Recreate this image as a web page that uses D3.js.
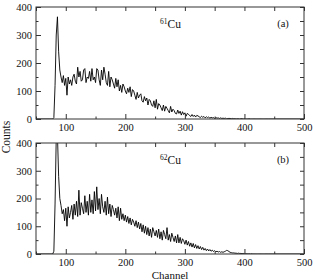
<!doctype html>
<html>
<head>
  <title>61Cu / 62Cu spectra</title>
  <meta charset="UTF-8">
  <script src="https://d3js.org/d3.v7.min.js"></script>
  <style>
    body { margin: 0; background: #fff; }
    text { font-family: "Liberation Serif", "DejaVu Serif", serif; fill: #111; }
  </style>
</head>
<body>
  <div id="svg_area"></div>
<script>

// channels of the spectrum (every 2nd channel, 78 .. 440)
var chStart = 78;
var chStep = 2;

// 61Cu counts, panel (a)
var counts61 = [
  0, 5, 120, 300, 365, 240, 175, 150, 130, 155,
  120, 145, 85, 150, 125, 140, 120, 150, 160, 135,
  125, 185, 150, 170, 135, 140, 175, 180, 130, 150,
  145, 170, 135, 180, 140, 150, 130, 180, 175, 140,
  120, 175, 140, 185, 160, 130, 120, 170, 115, 150,
  140, 125, 110, 145, 115, 140, 100, 120, 95, 125,
  115, 100, 90, 110, 95, 115, 80, 105, 100, 85,
  70, 95, 75, 85, 90, 65, 60, 80, 65, 75,
  50, 70, 65, 50, 45, 65, 40, 70, 35, 55,
  50, 40, 30, 50, 28, 45, 38, 30, 22, 45,
  25, 35, 30, 20, 18, 32, 20, 28, 14, 26,
  16, 22, 10, 20, 17, 12, 9, 16, 9, 14,
  7, 13, 11, 8, 5, 10, 6, 9, 4, 8,
  5, 7, 3, 6, 4, 5, 2, 5, 3, 4,
  2, 4, 2, 3, 2, 3, 1, 2, 2, 2,
  1, 2, 1, 1, 0, 1, 1, 0, 1, 1,
  0, 1, 0, 0, 0, 1, 0, 0, 0, 0,
  0, 0, 0, 0, 0, 0, 0, 0, 0, 0,
  0, 0
];

// 62Cu counts, panel (b)
var counts62 = [
  0, 10, 180, 420, 430, 280, 200, 175, 145, 160,
  120, 165, 100, 170, 130, 150, 175, 125, 180, 140,
  190, 135, 230, 140, 185, 165, 145, 210, 150, 190,
  140, 215, 150, 195, 145, 225, 155, 242, 160, 200,
  145, 215, 170, 150, 190, 140, 205, 145, 180, 135,
  175, 160, 140, 165, 130, 170, 120, 165, 125, 145,
  120, 140, 115, 135, 110, 130, 105, 125, 115, 100,
  120, 95, 115, 90, 110, 80, 105, 75, 100, 70,
  95, 65, 90, 60, 95, 80, 65, 85, 60, 90,
  55, 80, 50, 85, 70, 55, 95, 50, 70, 45,
  75, 60, 45, 65, 40, 70, 40, 60, 38, 55,
  48, 35, 50, 32, 45, 28, 40, 25, 38, 22,
  34, 20, 30, 18, 27, 16, 24, 14, 20, 12,
  18, 11, 16, 10, 14, 9, 12, 8, 10, 7,
  9, 6, 8, 6, 8, 10, 13, 12, 9, 6,
  5, 4, 4, 3, 3, 2, 3, 2, 2, 1,
  2, 1, 1, 1, 0, 1, 0, 1, 0, 0,
  0, 0, 0, 0, 0, 0, 0, 0, 0, 0,
  0, 0
];

var xTicks = [100, 200, 300, 400, 500];
var xMinor = [50, 150, 250, 350, 450];
var yTicks = [0, 100, 200, 300, 400];
var yMinor = [50, 150, 250, 350];

var panels = [
  { iso: "61", label: "(a)", values: counts61, top: 7, bottom: 119 },
  { iso: "62", label: "(b)", values: counts62, top: 143, bottom: 254 }
];

var left = 36, right = 304;

var svg = d3.select("#svg_area").append("svg")
    .attr("width", 315)
    .attr("height", 280);

var xScale = d3.scaleLinear().domain([50, 500]).range([left, right]);

panels.forEach(function (p, k) {
  var yScale = d3.scaleLinear().domain([0, 400]).range([p.bottom, p.top]);
  var g = svg.append("g");

  // spectrum points
  var pts = [[50, 0]];
  p.values.forEach(function (v, i) { pts.push([chStart + i * chStep, v]); });
  pts.push([500, 0]);

  g.append("clipPath").attr("id", "clip" + k)
    .append("rect")
      .attr("x", left).attr("y", p.top)
      .attr("width", right - left).attr("height", p.bottom - p.top);

  var line = d3.line()
      .x(function (d) { return xScale(d[0]); })
      .y(function (d) { return yScale(d[1]); });

  g.append("path")
      .datum(pts)
      .attr("clip-path", "url(#clip" + k + ")")
      .attr("d", line)
      .attr("fill", "none")
      .attr("stroke", "#000")
      .attr("stroke-width", 0.9);

  // axes, ticks pointing inward
  function style(sel) {
    sel.select(".domain").remove();
    sel.selectAll("line").attr("stroke", "#333");
    sel.selectAll("text").attr("font-size", "10.5px").attr("font-family", "Liberation Serif, serif");
  }

  g.append("g").attr("transform", "translate(0," + p.bottom + ")")
    .call(d3.axisBottom(xScale).tickValues(xTicks).tickSizeInner(-5).tickSizeOuter(0).tickPadding(5))
    .call(style);
  g.append("g").attr("transform", "translate(0," + p.bottom + ")")
    .call(d3.axisBottom(xScale).tickValues(xMinor).tickSize(-2.5).tickFormat(""))
    .call(style);
  g.append("g").attr("transform", "translate(0," + p.top + ")")
    .call(d3.axisTop(xScale).tickValues(xTicks.concat(xMinor)).tickSize(-4).tickFormat(""))
    .call(style);

  g.append("g").attr("transform", "translate(" + left + ",0)")
    .call(d3.axisLeft(yScale).tickValues(yTicks).tickSizeInner(-5).tickSizeOuter(0).tickPadding(4))
    .call(style);
  g.append("g").attr("transform", "translate(" + left + ",0)")
    .call(d3.axisLeft(yScale).tickValues(yMinor).tickSize(-2.5).tickFormat(""))
    .call(style);
  g.append("g").attr("transform", "translate(" + right + ",0)")
    .call(d3.axisRight(yScale).tickValues(yTicks.concat(yMinor)).tickSize(-4).tickFormat(""))
    .call(style);

  // frame
  g.append("rect")
      .attr("x", left).attr("y", p.top)
      .attr("width", right - left).attr("height", p.bottom - p.top)
      .attr("fill", "none")
      .attr("stroke", "#333")
      .attr("stroke-width", 1);

  // isotope label
  var t = g.append("text")
      .attr("x", 160).attr("y", p.top + 21)
      .attr("font-size", "11.5px");
  t.append("tspan").attr("font-size", "7.5px").attr("dy", -4).text(p.iso);
  t.append("tspan").attr("dy", 4).text("Cu");

  g.append("text")
      .attr("x", 283).attr("y", p.top + 20)
      .attr("text-anchor", "middle")
      .attr("font-size", "10.5px")
      .text(p.label);
});

// axis titles
svg.append("text")
    .attr("x", 170).attr("y", 278.5)
    .attr("text-anchor", "middle")
    .attr("font-size", "11px")
    .text("Channel");

svg.append("text")
    .attr("transform", "translate(10,137) rotate(-90)")
    .attr("text-anchor", "middle")
    .attr("font-size", "11.5px")
    .text("Counts");

</script>
</body>
</html>
